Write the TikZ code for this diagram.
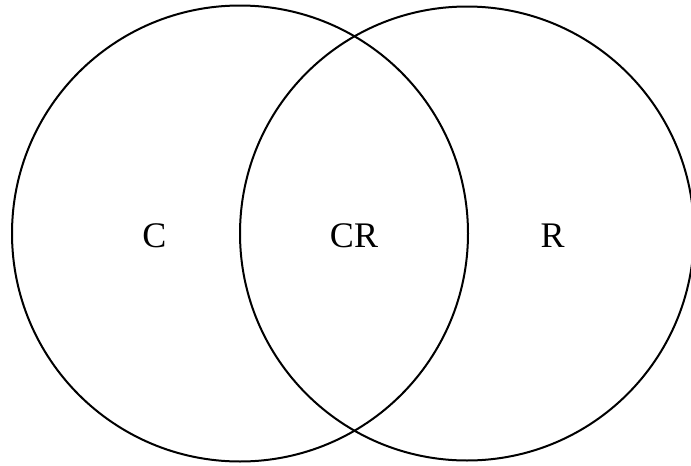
\documentclass[tikz,border=0pt]{standalone}
\usepackage{fontspec}
\setmainfont{Liberation Serif}
\begin{document}
\begin{tikzpicture}[x=1pt,y=-1pt,
  setcircle/.style={draw=black,line width=2pt},
  setlabel/.style={font=\fontsize{36}{40}\selectfont,inner sep=0pt,anchor=center}]
\useasboundingbox (0,0) rectangle (691,466);
\begin{scope}
\clip (0,0) rectangle (691,466);
\node[setcircle,circle,minimum size=456pt,inner sep=0pt] (cc) at (240,233.5) {};
\node[setcircle,circle,minimum size=454pt,inner sep=0pt] (rc) at (467,233.5) {};
\end{scope}
\node[setlabel] (lc) at (154.5,236) {C};
\node[setlabel] (lcr) at (354,236) {CR};
\node[setlabel] (lr) at (552.5,236) {R};
\end{tikzpicture}
\end{document}
